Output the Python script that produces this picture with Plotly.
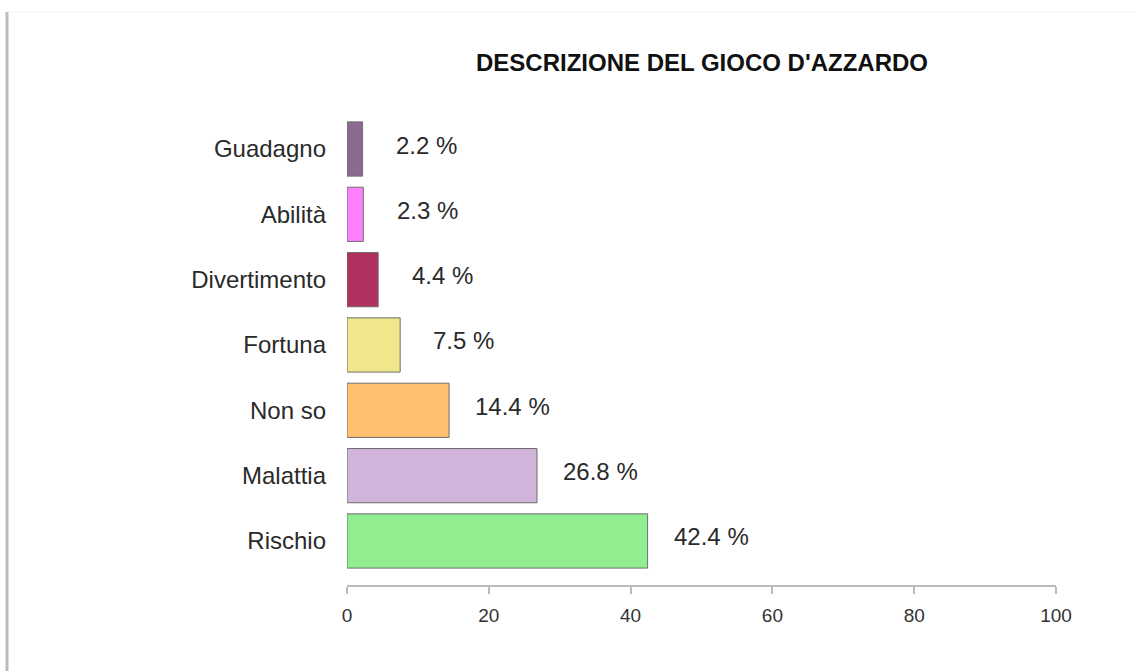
import plotly.graph_objects as go

categories = ["Rischio", "Malattia", "Non so", "Fortuna", "Divertimento", "Abilità", "Guadagno"]
values = [42.4, 26.8, 14.4, 7.5, 4.4, 2.3, 2.2]
colors = ["#90EE90", "#D0B4D9", "#FFC16F", "#F0E68C", "#B03060", "#FF80FF", "#8B6A8F"]
tick_vals = [0, 20, 40, 60, 80, 100]
title = "DESCRIZIONE DEL GIOCO D'AZZARDO"

W, H = 1136, 671
L, R, T, B = 347, 80, 100, 86
pw = W - L - R
ph = H - T - B
FONT = "Liberation Sans, Arial"

fig = go.Figure()
fig.add_trace(go.Bar(
    y=categories, x=values, orientation="h",
    marker=dict(color=colors, line=dict(color="#6E6E6E", width=1)),
    width=0.83, hoverinfo="x+y",
))

for c, v in zip(categories, values):
    fig.add_annotation(x=v + 9, y=c, text=f"{v} %", showarrow=False,
                       xanchor="center", yshift=4,
                       font=dict(family=FONT, size=24, color="#2A2A2A"))

# frame lines (left border and faint top line)
fig.add_shape(type="line", xref="paper", yref="paper",
              x0=(7 - L) / pw, x1=(7 - L) / pw, y0=-B / ph, y1=(H - B - 12) / ph,
              line=dict(color="#BBBBBB", width=3))
fig.add_shape(type="line", xref="paper", yref="paper",
              x0=(7 - L) / pw, x1=(W - L) / pw, y0=(H - B - 12) / ph, y1=(H - B - 12) / ph,
              line=dict(color="#F0F0F0", width=1))

fig.update_layout(
    width=W, height=H,
    margin=dict(l=L, r=R, t=T, b=B, pad=0),
    paper_bgcolor="white", plot_bgcolor="white",
    showlegend=False,
    title=dict(text=f"<b>{title}</b>", x=702 / W, xanchor="center",
               y=1 - 63 / H, yanchor="middle",
               font=dict(family=FONT, size=24, color="#111111")),
    xaxis=dict(range=[0, 100], tickvals=tick_vals, showgrid=False, zeroline=False,
               showline=True, linecolor="#BBBBBB", linewidth=2,
               ticks="outside", ticklen=7, tickwidth=2, tickcolor="#BBBBBB",
               ticklabelstandoff=5,
               tickfont=dict(family=FONT, size=19, color="#333333"),
               fixedrange=True),
    yaxis=dict(range=[-0.674, 6.75], showgrid=False, zeroline=False, showline=False,
               ticks="", ticklabelstandoff=20,
               tickfont=dict(family=FONT, size=24, color="#2A2A2A"),
               fixedrange=True),
)

fig.write_html("out.html", config={"displayModeBar": False},
               post_script="document.body.style.margin='0';")
